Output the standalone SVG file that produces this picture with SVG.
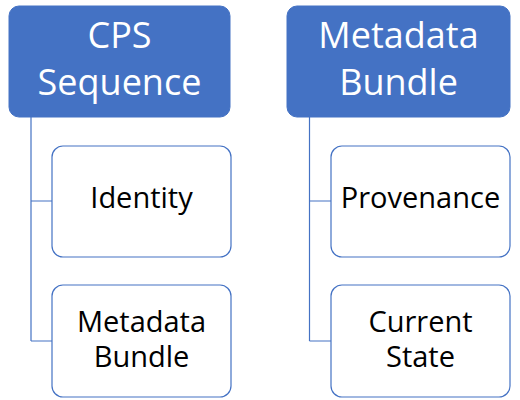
<svg xmlns="http://www.w3.org/2000/svg" width="520" height="400" viewBox="0 0 520 400">
<style>
.parent{fill:#4472C4;stroke:#4472C4;stroke-width:1}
.child{fill:#FFFFFF;stroke:#4472C4;stroke-width:1.2}
.conn{fill:none;stroke:#4472C4;stroke-width:1.2}
.pt{font-family:"Open Sans","Liberation Sans",sans-serif;font-size:36px;fill:#FFFFFF;text-anchor:middle}
.ct{font-family:"Open Sans","Liberation Sans",sans-serif;font-size:29px;fill:#000000;text-anchor:middle}
</style>
<rect width="520" height="400" fill="#FFFFFF"/>
<g id="connectors">
<path class="conn" d="M31,117 V341 M31,201 H52 M31,341 H52"/>
<path class="conn" d="M309.5,117 V341 M309.5,201 H331 M309.5,341 H331"/>
</g>
<g id="cps-sequence">
<rect class="parent" x="9" y="6" width="221" height="111" rx="10"/>
<text class="pt"><tspan x="119.5" y="48">CPS</tspan><tspan x="119.5" y="95">Sequence</tspan></text>
</g>
<g id="identity">
<rect class="child" x="52" y="146" width="179" height="111" rx="11"/>
<text class="ct" x="141.5" y="208">Identity</text>
</g>
<g id="metadata-bundle-child">
<rect class="child" x="52" y="285" width="179" height="112" rx="11"/>
<text class="ct"><tspan x="141.5" y="332">Metadata</tspan><tspan x="141.5" y="367">Bundle</tspan></text>
</g>
<g id="metadata-bundle">
<rect class="parent" x="287" y="6" width="223" height="111" rx="10"/>
<text class="pt"><tspan x="398.5" y="48">Metadata</tspan><tspan x="398.5" y="95">Bundle</tspan></text>
</g>
<g id="provenance">
<rect class="child" x="331" y="146" width="179" height="111" rx="11"/>
<text class="ct" x="420.5" y="208">Provenance</text>
</g>
<g id="current-state">
<rect class="child" x="331" y="285" width="179" height="112" rx="11"/>
<text class="ct"><tspan x="420.5" y="332">Current</tspan><tspan x="420.5" y="367">State</tspan></text>
</g>
</svg>
